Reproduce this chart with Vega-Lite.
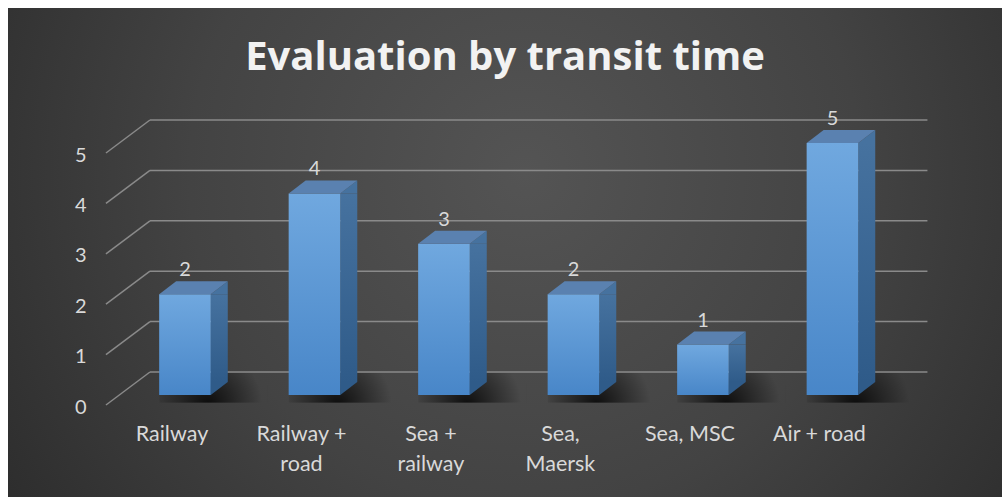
{
  "$schema": "https://vega.github.io/schema/vega-lite/v6.json",
  "width": 994,
  "height": 489,
  "autosize": {"type": "none"},
  "padding": {"left": 8, "top": 8, "right": 0, "bottom": 0},
  "background": "white",
  "view": {
    "stroke": null,
    "fill": {
      "gradient": "radial",
      "x1": 0.52, "y1": 0.42, "r1": 0,
      "x2": 0.52, "y2": 0.42, "r2": 0.75,
      "stops": [
        {"offset": 0, "color": "#545454"},
        {"offset": 0.45, "color": "#434343"},
        {"offset": 1, "color": "#232323"}
      ]
    }
  },
  "title": {
    "text": "Evaluation by transit time",
    "font": "Open Sans",
    "fontSize": 40,
    "fontWeight": "bold",
    "color": "#F2F2F2",
    "anchor": "middle",
    "frame": "group",
    "baseline": "alphabetic",
    "offset": -63,
    "dy": 39
  },
  "datasets": {
    "bars": [
      {"mode": "Railway", "score": 2},
      {"mode": "Railway + road", "score": 4},
      {"mode": "Sea + railway", "score": 3},
      {"mode": "Sea, Maersk", "score": 2},
      {"mode": "Sea, MSC", "score": 1},
      {"mode": "Air + road", "score": 5}
    ],
    "ticks": [{"v": 0}, {"v": 1}, {"v": 2}, {"v": 3}, {"v": 4}, {"v": 5}]
  },
  "resolve": {"scale": {"x": "shared", "y": "shared"}},
  "layer": [
    {
      "data": {"name": "bars"},
      "mark": {
        "type": "point",
        "shape": "M -1 -0.85 L 3.2 -0.85 L 3.2 0.3 L -1 0.3 Z",
        "size": 2662,
        "filled": true,
        "opacity": 1,
        "strokeWidth": 0,
        "fill": {
          "gradient": "radial",
          "x1": 0.45, "y1": 0.65, "r1": 0,
          "x2": 0.45, "y2": 0.65, "r2": 0.5,
          "stops": [
            {"offset": 0, "color": "rgba(0,0,0,0.8)"},
            {"offset": 0.55, "color": "rgba(0,0,0,0.35)"},
            {"offset": 1, "color": "rgba(0,0,0,0)"}
          ]
        }
      },
      "encoding": {
        "x": {"field": "mode", "type": "nominal", "sort": null},
        "y": {"datum": 0, "type": "quantitative"}
      }
    },
    {
      "data": {"name": "ticks"},
      "mark": {"type": "rule", "color": "#8a8a8a", "strokeWidth": 1.5, "xOffset": -35, "x2Offset": 95, "yOffset": -23, "y2Offset": -23},
      "encoding": {
        "x": {"datum": "Railway", "type": "nominal"},
        "x2": {"datum": "Air + road"},
        "y": {"field": "v", "type": "quantitative"},
        "y2": {"field": "v"}
      }
    },
    {
      "data": {"name": "ticks"},
      "mark": {"type": "rule", "color": "#8a8a8a", "strokeWidth": 1.5, "xOffset": -79, "x2Offset": -35, "yOffset": 10, "y2Offset": -23},
      "encoding": {
        "x": {"datum": "Railway", "type": "nominal"},
        "x2": {"datum": "Railway"},
        "y": {"field": "v", "type": "quantitative"},
        "y2": {"field": "v"}
      }
    },
    {
      "data": {"name": "bars"},
      "mark": {
        "type": "bar",
        "width": 17,
        "xOffset": 34.3,
        "y2Offset": -13,
        "color": {
          "gradient": "linear", "x1": 0, "y1": 0, "x2": 0, "y2": 1,
          "stops": [{"offset": 0, "color": "#46729F"}, {"offset": 1, "color": "#2F5B89"}]
        }
      },
      "encoding": {
        "x": {"field": "mode", "type": "nominal", "sort": null},
        "y": {"field": "score", "type": "quantitative"},
        "y2": {"datum": 0}
      }
    },
    {
      "data": {"name": "bars"},
      "mark": {"type": "point", "shape": "M 1 0 L 1.659 -0.504 L 1.659 0 Z", "size": 2662, "filled": true, "opacity": 1, "strokeWidth": 0, "fill": "#46729F"},
      "encoding": {
        "x": {"field": "mode", "type": "nominal", "sort": null},
        "y": {"field": "score", "type": "quantitative"}
      }
    },
    {
      "data": {"name": "bars"},
      "mark": {"type": "point", "shape": "M 1 0 L 1 -0.504 L 1.659 -0.504 Z", "size": 2662, "filled": true, "opacity": 1, "strokeWidth": 0, "fill": "#2F5B89"},
      "encoding": {
        "x": {"field": "mode", "type": "nominal", "sort": null},
        "y": {"datum": 0, "type": "quantitative"}
      }
    },
    {
      "data": {"name": "bars"},
      "mark": {
        "type": "bar",
        "width": 51.6,
        "color": {
          "gradient": "linear", "x1": 0, "y1": 0, "x2": 0, "y2": 1,
          "stops": [{"offset": 0, "color": "#70A8DF"}, {"offset": 1, "color": "#4886C8"}]
        }
      },
      "encoding": {
        "x": {
          "field": "mode", "type": "nominal", "sort": null,
          "scale": {"paddingInner": 0.324, "paddingOuter": 1, "align": 0.5143},
          "axis": {
            "title": null, "orient": "bottom", "offset": -57, "domain": false, "ticks": false,
            "labelPadding": 0, "labelAngle": 0, "labelOffset": -13, "labelAlign": "center",
            "labelFont": "Lato", "labelFontSize": 21.5, "labelColor": "#D9D9D9",
            "labelBaseline": "alphabetic", "labelLineHeight": 30,
            "labelExpr": "length(datum.label) > 10 ? [substring(datum.label, 0, lastindexof(datum.label, ' ')), substring(datum.label, lastindexof(datum.label, ' ') + 1)] : datum.label"
          }
        },
        "y": {
          "field": "score", "type": "quantitative",
          "scale": {"domain": [-2.0238, 7.6786], "nice": false, "zero": false},
          "axis": {
            "title": null, "orient": "left", "offset": -78, "domain": false, "ticks": false, "grid": false,
            "values": [0, 1, 2, 3, 4, 5], "labelPadding": 0, "labelOffset": 12,
            "labelFont": "Lato", "labelFontSize": 20, "labelColor": "#D9D9D9"
          }
        },
        "y2": {"datum": 0}
      }
    },
    {
      "data": {"name": "bars"},
      "mark": {"type": "point", "shape": "M -1 0 L 1 0 L 1.659 -0.504 L -0.341 -0.504 Z", "size": 2662, "filled": true, "opacity": 1, "strokeWidth": 0, "fill": "#5A81B0"},
      "encoding": {
        "x": {"field": "mode", "type": "nominal", "sort": null},
        "y": {"field": "score", "type": "quantitative"}
      }
    },
    {
      "data": {"name": "bars"},
      "mark": {"type": "text", "dy": -18, "baseline": "alphabetic", "align": "center", "font": "Lato", "fontSize": 20, "color": "#D9D9D9"},
      "encoding": {
        "x": {"field": "mode", "type": "nominal", "sort": null},
        "y": {"field": "score", "type": "quantitative"},
        "text": {"field": "score", "type": "quantitative"}
      }
    }
  ]
}
